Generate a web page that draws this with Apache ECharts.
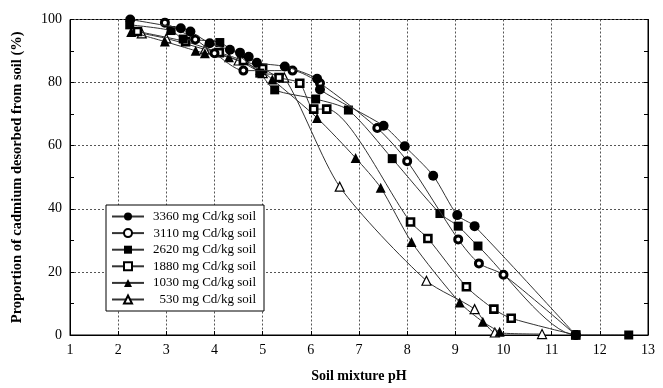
<!DOCTYPE html>
<html><head><meta charset="utf-8">
<script src="https://cdn.jsdelivr.net/npm/echarts@6/dist/echarts.min.js"></script>
<style>html,body{margin:0;padding:0;background:#fff}#c{width:663px;height:388px}</style>
</head><body><div id="c"></div>
<script>
const seriesNames = ['3360 mg Cd/kg soil','3110 mg Cd/kg soil','2620 mg Cd/kg soil','1880 mg Cd/kg soil','1030 mg Cd/kg soil','530 mg Cd/kg soil'];
const s3360 = [[2.25,100],[3.3,97.2],[3.5,96.2],[3.9,92.5],[4.32,90.4],[4.53,89.5],[4.71,88.2],[4.88,86.3],[5.46,85.1],[6.13,81.2],[6.19,77.8],[7.51,66.3],[7.95,59.8],[8.54,50.5],[9.04,38],[9.4,34.5],[11.5,0]];
const s3110 = [[2.97,99],[3.6,93.7],[4.0,89.3],[4.6,83.8],[5.62,83.8],[6.19,79.8],[7.38,65.6],[8.0,55.1],[9.06,30.3],[9.49,22.7],[10.0,19.1],[11.5,0]];
const s2620 = [[2.24,98.3],[3.1,96.5],[3.35,93.8],[4.11,92.7],[4.94,83],[5.25,77.7],[6.1,74.8],[6.78,71.3],[7.69,55.9],[8.68,38.5],[9.06,34.5],[9.47,28.2],[11.5,0],[12.6,0]];
const s1880 = [[2.4,96.2],[3.4,93],[4.1,89.5],[4.6,87],[5.0,84.5],[5.34,81.6],[5.77,79.8],[6.06,71.6],[6.33,71.6],[8.07,35.8],[8.43,30.6],[9.23,15.3],[9.8,8.2],[10.16,5.3],[11.5,0]];
const s1030 = [[2.27,96],[2.97,93],[3.61,90.1],[3.8,89.3],[4.3,88],[4.95,84],[5.2,81],[6.13,68.8],[6.93,56.1],[7.45,46.7],[8.09,29.5],[9.09,10.3],[9.57,4.2],[9.92,1.0]];
const s530 = [[2.49,95.6],[3.0,94],[3.8,90.5],[4.5,87],[5.0,83],[5.45,81.6],[6.6,47],[8.4,17.2],[9.4,8.2],[9.82,0.8],[10.8,0.3]];
const xTicks = [1,2,3,4,5,6,7,8,9,10,11,12,13];

const serif = 'Liberation Serif';
const chart = echarts.init(document.getElementById('c'));
function mk(name, data, symbol, size, fill, bw, z){
  return {name, type:'line', data, smooth:0.25, symbol, symbolSize:size, showSymbol:true, z,
    lineStyle:{color:'#333', width:1},
    itemStyle:{color:fill, borderColor:'#000', borderWidth:bw}, emphasis:{disabled:true}};
}
const dotted = {show:true, lineStyle:{type:[2,2], color:'#555', width:1}};
chart.setOption({
  animation:false,
  grid:{left:70, right:15, top:19.5, bottom:52, show:true, borderColor:'#000', borderWidth:1, backgroundColor:'transparent'},
  legend:{orient:'vertical', left:106, top:205, itemWidth:32, itemHeight:10, itemGap:3.6,
    borderColor:'#000', borderWidth:1, padding:[5,8,5,5], backgroundColor:'#fff',
    data:seriesNames,
    textStyle:{fontFamily:serif, fontSize:13, lineHeight:13, color:'#000', rich:{a:{fontFamily:serif, fontSize:13, lineHeight:13, width:107, align:'right'}}},
    formatter: n => '{a|' + n + '}'},
  xAxis:{type:'value', min:1, max:13, interval:1, name:'Soil mixture pH', nameLocation:'middle', nameGap:34,
    nameTextStyle:{fontFamily:serif, fontWeight:'bold', fontSize:14, color:'#000'},
    axisLine:{lineStyle:{color:'#000'}}, axisTick:{inside:true, length:4, lineStyle:{color:'#000'}},
    axisLabel:{fontFamily:serif, fontSize:14, color:'#000', margin:8, formatter: v => xTicks.includes(v) ? String(v) : ''},
    splitLine:dotted},
  yAxis:[{type:'value', min:0, max:100, interval:20, name:'Proportion of cadmium desorbed from soil (%)', nameLocation:'middle', nameGap:45,
    nameTextStyle:{fontFamily:serif, fontWeight:'bold', fontSize:14.5, color:'#000'},
    axisLine:{lineStyle:{color:'#000'}}, axisTick:{inside:true, length:4, lineStyle:{color:'#000'}},
    minorTick:{show:true, splitNumber:2, length:4, lineStyle:{color:'#000'}},
    axisLabel:{fontFamily:serif, fontSize:14, color:'#000', margin:8},
    splitLine:dotted},
   {type:'value', min:0, max:100, interval:20, position:'right',
    axisLine:{show:true, lineStyle:{color:'#000'}}, axisTick:{show:true, inside:true, length:4, lineStyle:{color:'#000'}},
    minorTick:{show:true, splitNumber:2, length:4, lineStyle:{color:'#000'}},
    axisLabel:{show:false}, splitLine:{show:false}}],
  series:[
    mk(seriesNames[5], s530, 'triangle', 9, '#fff', 1.2, 2),
    mk(seriesNames[4], s1030, 'triangle', 10, '#000', 0, 3),
    mk(seriesNames[3], s1880, 'rect', 7, '#fff', 2.6, 4),
    mk(seriesNames[2], s2620, 'rect', 9, '#000', 0, 5),
    mk(seriesNames[1], s3110, 'circle', 7, '#fff', 3, 6),
    mk(seriesNames[0], s3360, 'circle', 10, '#000', 0, 7)
  ]
});
</script></body></html>
